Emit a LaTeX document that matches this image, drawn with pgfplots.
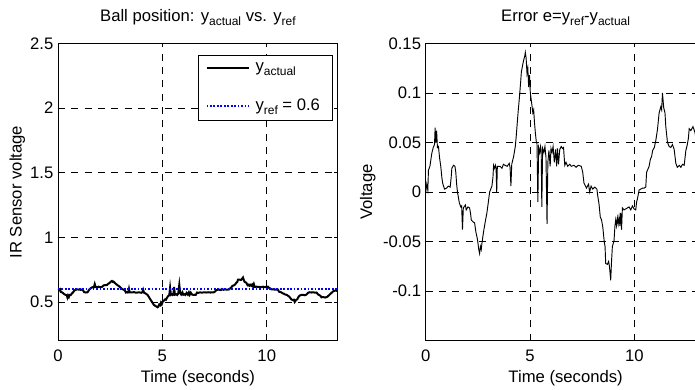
\documentclass[border=0pt]{standalone}
\usepackage{pgfplots}
\pgfplotsset{compat=1.18}
\usepackage{pgfplotstable}
\usepackage{fontspec}
\setmainfont{Liberation Sans}

\newcommand\sub[1]{\raisebox{-3pt}{\fontsize{9}{10}\selectfont #1}}

\pgfplotstableread{
t ya e
0.00 0.600 0.000
0.05 0.592 0.008
0.10 0.598 0.002
0.13 0.578 0.022
0.20 0.574 0.026
0.29 0.561 0.039
0.36 0.555 0.045
0.42 0.552 0.048
0.45 0.535 0.065
0.48 0.550 0.050
0.52 0.538 0.062
0.56 0.555 0.045
0.61 0.554 0.046
0.66 0.565 0.035
0.72 0.574 0.026
0.77 0.585 0.015
0.81 0.591 0.009
0.90 0.597 0.003
1.00 0.596 0.004
1.08 0.594 0.006
1.17 0.595 0.005
1.22 0.585 0.015
1.25 0.576 0.024
1.33 0.573 0.027
1.40 0.574 0.026
1.44 0.580 0.020
1.48 0.592 0.008
1.52 0.600 0.000
1.61 0.611 -0.011
1.68 0.615 -0.015
1.72 0.614 -0.014
1.76 0.638 -0.038
1.80 0.616 -0.016
1.90 0.613 -0.013
1.94 0.618 -0.018
2.02 0.615 -0.015
2.10 0.616 -0.016
2.15 0.622 -0.022
2.18 0.628 -0.028
2.26 0.630 -0.030
2.34 0.631 -0.031
2.40 0.640 -0.040
2.48 0.648 -0.048
2.54 0.658 -0.058
2.58 0.662 -0.062
2.62 0.655 -0.055
2.66 0.658 -0.058
2.69 0.652 -0.052
2.77 0.640 -0.040
2.85 0.630 -0.030
2.93 0.621 -0.021
3.00 0.610 -0.010
3.06 0.600 0.000
3.17 0.594 0.006
3.22 0.585 0.015
3.25 0.573 0.027
3.30 0.576 0.024
3.34 0.573 0.027
3.37 0.576 0.024
3.40 0.600 0.000
3.43 0.574 0.026
3.56 0.574 0.026
3.65 0.576 0.024
3.72 0.572 0.028
3.80 0.573 0.027
3.90 0.574 0.026
4.00 0.571 0.029
4.04 0.575 0.025
4.08 0.594 0.006
4.12 0.572 0.028
4.21 0.564 0.036
4.29 0.554 0.046
4.33 0.545 0.055
4.37 0.534 0.066
4.43 0.518 0.082
4.49 0.504 0.096
4.55 0.488 0.112
4.58 0.479 0.121
4.64 0.472 0.128
4.69 0.467 0.133
4.74 0.463 0.137
4.77 0.459 0.141
4.81 0.465 0.135
4.85 0.480 0.120
4.89 0.475 0.125
4.93 0.494 0.106
4.97 0.482 0.118
5.01 0.500 0.100
5.09 0.513 0.087
5.13 0.520 0.080
5.17 0.517 0.083
5.21 0.530 0.070
5.25 0.540 0.060
5.30 0.550 0.050
5.33 0.551 0.049
5.37 0.610 -0.010
5.41 0.555 0.045
5.46 0.560 0.040
5.50 0.554 0.046
5.53 0.558 0.042
5.56 0.615 -0.015
5.60 0.556 0.044
5.66 0.560 0.040
5.71 0.554 0.046
5.76 0.565 0.035
5.81 0.632 -0.032
5.85 0.570 0.030
5.90 0.558 0.042
5.96 0.574 0.026
6.00 0.556 0.044
6.05 0.560 0.040
6.10 0.554 0.046
6.16 0.570 0.030
6.22 0.557 0.043
6.27 0.574 0.026
6.31 0.556 0.044
6.36 0.572 0.028
6.42 0.557 0.043
6.49 0.554 0.046
6.55 0.556 0.044
6.60 0.555 0.045
6.66 0.573 0.027
6.72 0.570 0.030
6.80 0.574 0.026
6.90 0.572 0.028
6.97 0.574 0.026
7.10 0.573 0.027
7.20 0.575 0.025
7.30 0.573 0.027
7.45 0.574 0.026
7.52 0.580 0.020
7.58 0.591 0.009
7.70 0.596 0.004
7.80 0.592 0.008
7.85 0.600 0.000
7.92 0.594 0.006
8.00 0.597 0.003
8.10 0.595 0.005
8.20 0.597 0.003
8.24 0.604 -0.004
8.30 0.612 -0.012
8.36 0.625 -0.025
8.42 0.628 -0.028
8.48 0.635 -0.035
8.55 0.650 -0.050
8.59 0.655 -0.055
8.62 0.672 -0.072
8.70 0.673 -0.073
8.76 0.670 -0.070
8.80 0.675 -0.075
8.86 0.689 -0.089
8.90 0.670 -0.070
8.94 0.655 -0.055
9.02 0.649 -0.049
9.06 0.635 -0.035
9.10 0.628 -0.028
9.14 0.634 -0.034
9.18 0.626 -0.026
9.22 0.632 -0.032
9.26 0.625 -0.025
9.30 0.634 -0.034
9.34 0.621 -0.021
9.38 0.638 -0.038
9.42 0.616 -0.016
9.50 0.618 -0.018
9.58 0.617 -0.017
9.66 0.616 -0.016
9.74 0.615 -0.015
9.82 0.618 -0.018
9.90 0.614 -0.014
9.98 0.617 -0.017
10.06 0.618 -0.018
10.10 0.610 -0.010
10.14 0.607 -0.007
10.22 0.598 0.002
10.30 0.597 0.003
10.38 0.596 0.004
10.46 0.596 0.004
10.54 0.595 0.005
10.58 0.580 0.020
10.66 0.576 0.024
10.70 0.574 0.026
10.76 0.567 0.033
10.82 0.564 0.036
10.87 0.558 0.042
10.95 0.555 0.045
11.02 0.548 0.052
11.10 0.537 0.063
11.18 0.520 0.080
11.26 0.514 0.086
11.30 0.517 0.083
11.34 0.500 0.100
11.40 0.515 0.085
11.46 0.520 0.080
11.50 0.534 0.066
11.58 0.550 0.050
11.66 0.554 0.046
11.74 0.555 0.045
11.82 0.552 0.048
11.90 0.557 0.043
11.98 0.571 0.029
12.05 0.575 0.025
12.15 0.573 0.027
12.22 0.575 0.025
12.30 0.572 0.028
12.38 0.573 0.027
12.46 0.558 0.042
12.52 0.553 0.047
12.58 0.546 0.054
12.62 0.536 0.064
12.70 0.538 0.062
12.80 0.534 0.066
12.90 0.540 0.060
13.00 0.555 0.045
13.10 0.570 0.030
13.20 0.585 0.015
13.30 0.588 0.012
13.40 0.585 0.015
}\data

\pgfplotsset{
  mystyle/.style={
    scale only axis,
    width=209.8pt, height=223pt,
    anchor=south west,
    xmin=0, xmax=13.4,
    xtick={0,5,10}, xticklabels={0,5,10},
    grid=major,
    major grid style={black, line width=0.5pt, dash pattern=on 5.3pt off 4.7pt},
    axis line style={line width=0.6pt},
    tick align=inside, major tick length=3pt,
    tick style={black, line width=0.5pt},
    font=\fontsize{12.5}{14}\selectfont,
    tick label style={font=\fontsize{12.5}{14}\selectfont},
    xticklabel style={anchor=base, yshift=-15.75pt},
    title style={at={(0.5,1)}, anchor=base, yshift=10.5pt, font=\fontsize{12.5}{14}\selectfont},
    xlabel style={at={(axis description cs:0.5,0)}, anchor=base, yshift=-31.5pt, font=\fontsize{12.5}{14}\selectfont},
    xlabel={Time (seconds)},
  }
}

\begin{document}
\begin{tikzpicture}
\path[use as bounding box] (0,0) rectangle (521.25pt,291.75pt);

\begin{axis}[mystyle,
  at={(43.5pt,36.2pt)},
  ymin=0.2, ymax=2.5,
  ytick={0.5,1,1.5,2,2.5}, yticklabels={0.5,1,1.5,2,2.5},
  title={Ball position: y\sub{actual} vs. y\sub{ref}},
  ylabel={IR Sensor voltage},
  ylabel style={at={(axis description cs:-0.13,0.5)}, anchor=base, font=\fontsize{12.5}{14}\selectfont},
  legend style={at={(axis description cs:0.981,0.962)}, anchor=north east,
    draw=black, line width=0.6pt, font=\fontsize{12.5}{14}\selectfont,
    inner xsep=5pt, inner ysep=5pt, row sep=17pt,
    nodes={inner xsep=4pt, inner ysep=1pt}},
  legend cell align=left,
  legend image code/.code={\draw[#1] (0pt,0pt) -- (32pt,0pt);},
]
\addplot[black, line width=1.5pt] table[x=t, y=ya] {\data};
\addlegendentry{y\sub{actual}}
\addplot[blue, line width=1.5pt, dash pattern=on 1.3pt off 1.3pt] coordinates {(0,0.6) (13.4,0.6)};
\addlegendentry{y\sub{ref} = 0.6}
\end{axis}

\begin{axis}[mystyle,
  at={(319.3pt,36.2pt)},
  ymin=-0.15, ymax=0.15,
  ytick={-0.1,-0.05,0,0.05,0.1,0.15}, yticklabels={-0.1,-0.05,0,0.05,0.1,0.15},
  title={Error e=y\sub{ref}-y\sub{actual}},
  ylabel={Voltage},
  ylabel style={at={(axis description cs:-0.192,0.5)}, anchor=base, font=\fontsize{12.5}{14}\selectfont},
]
\addplot[black, line width=0.7pt] table[x=t, y=e] {\data};
\end{axis}
\end{tikzpicture}
\end{document}
